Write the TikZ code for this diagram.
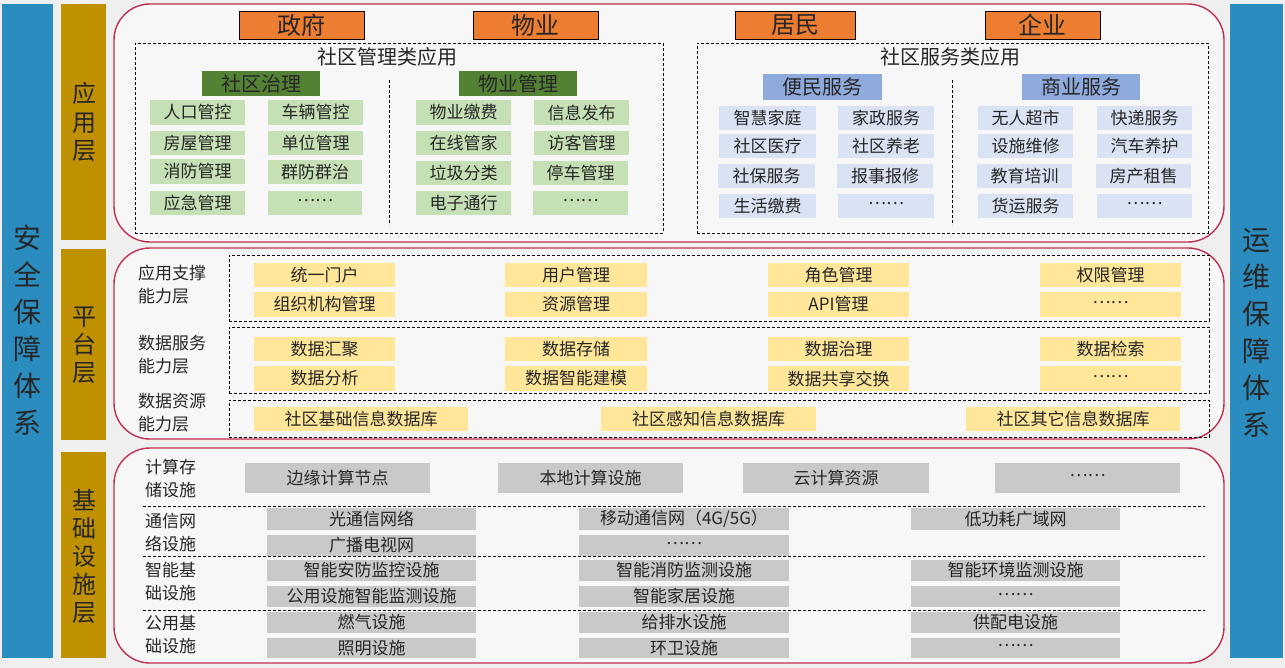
\documentclass[tikz,border=0pt]{standalone}
\usepackage{fontspec}
\setmainfont{Noto Sans CJK SC}
\definecolor{bgc}{HTML}{EFEFEF}
\definecolor{barblue}{HTML}{2B8CC0}
\definecolor{gold}{HTML}{BF9000}
\definecolor{redline}{HTML}{BE2F52}
\definecolor{orangeh}{HTML}{ED7D31}
\definecolor{dgreen}{HTML}{548235}
\definecolor{lgreen}{HTML}{C5E0B4}
\definecolor{bhead}{HTML}{8FAADC}
\definecolor{lblue}{HTML}{DAE3F3}
\definecolor{lyellow}{HTML}{FFE699}
\definecolor{lgray}{HTML}{C9C9C9}
\definecolor{txt}{HTML}{262626}
\newcommand\fsz[2]{\fontsize{#1pt}{#2pt}\selectfont}
\newcommand\mydots{\raisebox{0.3em}{……}}
\newcommand\bx[7]{\node[#1,minimum width=#5pt,minimum height=#6pt] (#2) at (#3,#4) {#7};}
\tikzset{
  base/.style={inner sep=0pt,outer sep=0pt,anchor=north west,text=txt},
  bar/.style={base,fill=barblue},
  goldbar/.style={base,fill=gold},
  redbox/.style={base,draw=redline,line width=1.4pt,rounded corners=36pt,fill=white,fill opacity=0.55,text opacity=1},
  orangebox/.style={base,fill=orangeh,draw=black,line width=0.8pt,font=\fsz{24}{26}},
  ghead/.style={base,fill=dgreen,font=\fsz{20}{22}},
  bhd/.style={base,fill=bhead,font=\fsz{20}{22}},
  gitem/.style={base,fill=lgreen,font=\fsz{17}{19}},
  bitem/.style={base,fill=lblue,font=\fsz{17}{19}},
  yitem/.style={base,fill=lyellow,font=\fsz{17}{19}},
  gyitem/.style={base,fill=lgray,font=\fsz{17}{19}},
  dbox/.style={base,draw=black,dashed,dash pattern=on 3pt off 2pt,line width=0.8pt},
  dline/.style={draw=black,dashed,dash pattern=on 3pt off 2pt,line width=0.8pt},
  vtxt/.style={inner sep=0pt,align=center,text=txt},
  ttl/.style={inner sep=0pt,text=txt,font=\fsz{20}{22}},
  lbl/.style={inner sep=0pt,anchor=west,align=left,text=txt,font=\fsz{17}{23}},
}
\begin{document}
\begin{tikzpicture}[x=1pt,y=-1pt]
\useasboundingbox (0,0) rectangle (1285,668);
\fill[bgc] (0,0) rectangle (1285,668);
% side bars
\bx{bar}{lbar}{2}{4}{51}{654}{}
\bx{bar}{rbar}{1230}{4}{53}{654}{}
\node[vtxt,font=\fsz{28}{37}] (ltxt) at (27.5,330) {安\\全\\保\\障\\体\\系};
\node[vtxt,font=\fsz{28}{37}] (rtxt) at (1256.5,333) {运\\维\\保\\障\\体\\系};
% gold bars
\bx{goldbar}{g1}{61}{4}{45}{236}{}
\bx{goldbar}{g2}{61}{249}{45}{191}{}
\bx{goldbar}{g3}{61}{452}{45}{206}{}
\node[vtxt,font=\fsz{24}{28.5}] (g1t) at (84,122) {应\\用\\层};
\node[vtxt,font=\fsz{24}{28}] (g2t) at (84,345) {平\\台\\层};
\node[vtxt,font=\fsz{24}{28}] (g3t) at (84,556) {基\\础\\设\\施\\层};
% red rounded boxes
\bx{redbox}{ra}{114}{4}{1110}{238}{}
\bx{redbox}{rb}{114}{248}{1110}{191}{}
\bx{redbox}{rc}{114}{448}{1110}{215}{}
% orange headers
\bx{orangebox}{h1}{239}{11}{125}{28}{政府}
\bx{orangebox}{h2}{473}{11}{125}{28}{物业}
\bx{orangebox}{h3}{735}{11}{120}{28}{居民}
\bx{orangebox}{h4}{985}{11}{115}{28}{企业}
% management apps
\bx{dbox}{mbox}{135}{43}{528}{190}{}
\node[ttl] (mttl) at (387,57) {社区管理类应用};
\coordinate (mv1) at (389,80); \coordinate (mv2) at (389,225);
\draw[dline] (mv1) -- (mv2);
\bx{ghead}{gh1}{202}{71}{118}{25}{社区治理}
\bx{ghead}{gh2}{459}{71}{118}{25}{物业管理}
\bx{gitem}{a11}{150}{100}{95}{25}{人口管控}
\bx{gitem}{a12}{268}{100}{95}{25}{车辆管控}
\bx{gitem}{a21}{150}{131}{95}{24}{房屋管理}
\bx{gitem}{a22}{268}{131}{95}{24}{单位管理}
\bx{gitem}{a31}{150}{159}{95}{25}{消防管理}
\bx{gitem}{a32}{268}{160}{94}{24}{群防群治}
\bx{gitem}{a41}{150}{191}{95}{24}{应急管理}
\bx{gitem}{a42}{268}{191}{94}{24}{\mydots}
\bx{gitem}{p11}{416}{100}{95}{25}{物业缴费}
\bx{gitem}{p12}{534}{100}{95}{25}{信息发布}
\bx{gitem}{p21}{416}{131}{95}{24}{在线管家}
\bx{gitem}{p22}{534}{131}{95}{24}{访客管理}
\bx{gitem}{p31}{416}{161}{95}{24}{垃圾分类}
\bx{gitem}{p32}{533}{161}{95}{24}{停车管理}
\bx{gitem}{p41}{416}{191}{95}{24}{电子通行}
\bx{gitem}{p42}{533}{191}{95}{24}{\mydots}
% service apps
\bx{dbox}{sbox}{697}{43}{511}{190}{}
\node[ttl] (sttl) at (950,57) {社区服务类应用};
\coordinate (sv1) at (952,80); \coordinate (sv2) at (952,225);
\draw[dline] (sv1) -- (sv2);
\bx{bhd}{bh1}{763}{74}{119}{26}{便民服务}
\bx{bhd}{bh2}{1022}{74}{118}{26}{商业服务}
\bx{bitem}{b11}{719}{106}{97}{24}{智慧家庭}
\bx{bitem}{b12}{838}{106}{96}{24}{家政服务}
\bx{bitem}{b21}{719}{134}{97}{24}{社区医疗}
\bx{bitem}{b22}{838}{134}{96}{24}{社区养老}
\bx{bitem}{b31}{718}{164}{97}{24}{社保服务}
\bx{bitem}{b32}{837}{164}{96}{24}{报事报修}
\bx{bitem}{b41}{719}{194}{97}{24}{生活缴费}
\bx{bitem}{b42}{838}{194}{96}{24}{\mydots}
\bx{bitem}{c11}{978}{106}{95}{24}{无人超市}
\bx{bitem}{c12}{1097}{106}{95}{24}{快递服务}
\bx{bitem}{c21}{978}{134}{95}{24}{设施维修}
\bx{bitem}{c22}{1097}{134}{95}{24}{汽车养护}
\bx{bitem}{c31}{977}{164}{95}{24}{教育培训}
\bx{bitem}{c32}{1096}{164}{95}{24}{房产租售}
\bx{bitem}{c41}{978}{194}{95}{24}{货运服务}
\bx{bitem}{c42}{1097}{194}{95}{24}{\mydots}
% platform layer
\bx{dbox}{pb1}{229}{255}{980}{66}{}
\bx{dbox}{pb2}{229}{327}{980}{66}{}
\bx{dbox}{pb3}{229}{400}{980}{37}{}
\node[lbl] (pl1) at (138,285) {应用支撑\\能力层};
\node[lbl] (pl2) at (138,355) {数据服务\\能力层};
\node[lbl] (pl3) at (138,413) {数据资源\\能力层};
\bx{yitem}{y11}{254}{263}{141}{24}{统一门户}
\bx{yitem}{y12}{505}{263}{142}{24}{用户管理}
\bx{yitem}{y13}{768}{263}{141}{24}{角色管理}
\bx{yitem}{y14}{1040}{263}{141}{24}{权限管理}
\bx{yitem}{y21}{254}{292}{141}{25}{组织机构管理}
\bx{yitem}{y22}{505}{292}{142}{25}{资源管理}
\bx{yitem}{y23}{768}{292}{141}{25}{API管理}
\bx{yitem}{y24}{1040}{292}{141}{25}{\mydots}
\bx{yitem}{y31}{254}{337}{141}{24}{数据汇聚}
\bx{yitem}{y32}{505}{337}{142}{24}{数据存储}
\bx{yitem}{y33}{768}{337}{141}{24}{数据治理}
\bx{yitem}{y34}{1040}{337}{141}{24}{数据检索}
\bx{yitem}{y41}{254}{366}{141}{25}{数据分析}
\bx{yitem}{y42}{505}{366}{142}{25}{数据智能建模}
\bx{yitem}{y43}{768}{366}{141}{25}{数据共享交换}
\bx{yitem}{y44}{1040}{366}{141}{25}{\mydots}
\bx{yitem}{y51}{254}{407}{214}{24}{社区基础信息数据库}
\bx{yitem}{y52}{601}{407}{215}{24}{社区感知信息数据库}
\bx{yitem}{y53}{966}{407}{214}{24}{社区其它信息数据库}
% infrastructure layer
\node[lbl] (il1) at (145,479) {计算存\\储设施};
\node[lbl] (il2) at (145,533) {通信网\\络设施};
\node[lbl] (il3) at (145,581.5) {智能基\\础设施};
\node[lbl] (il4) at (145,634.5) {公用基\\础设施};
\foreach \yy [count=\i] in {506,556,610} {
  \coordinate (dl\i a) at (143,\yy); \coordinate (dl\i b) at (1205,\yy);
  \draw[dline] (dl\i a) -- (dl\i b);
}
\bx{gyitem}{i11}{245}{463}{185}{30}{边缘计算节点}
\bx{gyitem}{i12}{498}{463}{185}{30}{本地计算设施}
\bx{gyitem}{i13}{743}{463}{186}{30}{云计算资源}
\bx{gyitem}{i14}{995}{463}{185}{30}{\mydots}
\bx{gyitem}{i21}{267}{508}{209}{22}{光通信网络}
\bx{gyitem}{i22}{579}{508}{210}{22}{移动通信网（4G/5G）}
\bx{gyitem}{i23}{911}{508}{209}{22}{低功耗广域网}
\bx{gyitem}{i31}{267}{535}{209}{21}{广播电视网}
\bx{gyitem}{i32}{579}{535}{210}{21}{\mydots}
\bx{gyitem}{i41}{267}{560}{209}{21}{智能安防监控设施}
\bx{gyitem}{i42}{579}{560}{210}{21}{智能消防监测设施}
\bx{gyitem}{i43}{911}{560}{209}{21}{智能环境监测设施}
\bx{gyitem}{i51}{267}{586}{209}{21}{公用设施智能监测设施}
\bx{gyitem}{i52}{579}{586}{210}{21}{智能家居设施}
\bx{gyitem}{i53}{911}{586}{209}{21}{\mydots}
\bx{gyitem}{i61}{267}{612}{209}{21}{燃气设施}
\bx{gyitem}{i62}{579}{612}{210}{21}{给排水设施}
\bx{gyitem}{i63}{911}{612}{209}{21}{供配电设施}
\bx{gyitem}{i71}{267}{638}{209}{20}{照明设施}
\bx{gyitem}{i72}{579}{638}{210}{20}{环卫设施}
\bx{gyitem}{i73}{911}{638}{209}{20}{\mydots}
\end{tikzpicture}
\end{document}
